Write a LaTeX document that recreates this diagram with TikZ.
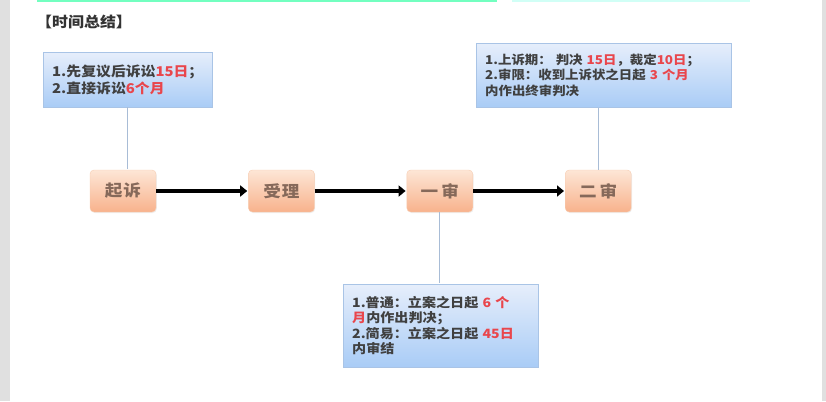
\documentclass[tikz,border=0pt]{standalone}
\usepackage{fontspec}
\setmainfont{Noto Sans CJK SC}[FakeStretch=1.1]
\usepackage{xcolor}
\usetikzlibrary{positioning,arrows.meta,shadows}
\definecolor{noteblue}{HTML}{A9C4E6}
\definecolor{notetop}{HTML}{E6EEFB}
\definecolor{notebot}{HTML}{A9CCF6}
\definecolor{steptop}{HTML}{FDE6D6}
\definecolor{stepbot}{HTML}{F8B28C}
\definecolor{stepline}{HTML}{F7CDB2}
\definecolor{steptext}{HTML}{86695A}
\definecolor{numred}{HTML}{E9464C}
\definecolor{linkgrey}{HTML}{A8BCD6}
\newcommand{\redtxt}[1]{\textcolor{numred}{#1}}
\tikzset{
  >=Stealth,
  shorten >=1pt,
}

\begin{document}
\begin{tikzpicture}[
  x=1pt,y=-1pt,
  node distance=92pt,
  stepbox/.style={draw=stepline, rounded corners=4pt, minimum width=66pt, minimum height=42pt,
    top color=steptop, bottom color=stepbot, text=steptext, font=\fontsize{16}{18}\selectfont\bfseries,
    drop shadow={shadow xshift=0.8pt, shadow yshift=-1pt, opacity=0.12}},
  note/.style={draw=noteblue, top color=notetop, bottom color=notebot, anchor=north west,
    inner xsep=9pt, align=left, text=black!75, font=\bfseries,
    drop shadow={shadow xshift=0.8pt, shadow yshift=-1pt, opacity=0.12}},
  flow/.style={-{Triangle[length=7pt,width=11pt]}, line width=4.5pt, shorten >=1pt},
  link/.style={draw=linkgrey, line width=0.8pt}
]
\useasboundingbox (0,0) rectangle (826,401);
\fill[black!12] (0,0) rectangle (10,401);
\fill[black!12] (822,0) rectangle (826,401);
\fill[green!45!cyan!55] (37,0) rectangle (497,2.5);
\fill[green!20!cyan!18] (512,0) rectangle (750,2.5);

\node[anchor=west, font=\fontsize{14.5}{16}\selectfont\bfseries, text=black!80, inner sep=0pt] (title) at (36,22) {【时间总结】};

% main flow
\node[stepbox] (qisu) at (123,191) {起\kern1pt 诉};
\node[stepbox, right=of qisu] (shouli) {受\kern1pt 理};
\node[stepbox, right=of shouli] (yishen) {一\kern3pt 审};
\node[stepbox, right=of yishen] (ershen) {二\kern3pt 审};

\draw[flow] (qisu) -- (shouli);
\draw[flow] (shouli) -- (yishen);
\draw[flow] (yishen) -- (ershen);

% notes
\node[note, text width=151pt, minimum height=55pt, font=\fontsize{13.5}{17}\selectfont\bfseries] (note1) at (43,52)
  {1.先复议后诉讼\redtxt{15日}；\\2.直接诉讼\redtxt{6个月}};
\node[note, text width=237pt, minimum height=64pt, font=\fontsize{12.2}{15.5}\selectfont\bfseries] (note2) at (476,43)
  {1.上诉期： 判决 \redtxt{15日}，裁定\redtxt{10日}；\\2.审限：收到上诉状之日起 \redtxt{3 个月}\\内作出终审判决};
\node[note, text width=177pt, minimum height=83pt, font=\fontsize{12.8}{15.5}\selectfont\bfseries] (note3) at (343,284)
  {1.普通：立案之日起 \redtxt{6 个}\\\redtxt{月}内作出判决；\\2.简易：立案之日起 \redtxt{45日}\\内审结};

\draw[link] (note1.south) -- (note1.south |- qisu.north);
\draw[link] (ershen.north) -- (ershen.north |- note2.south);
\draw[link] (yishen.south) -- (yishen.south |- note3.north);

\end{tikzpicture}
\end{document}
